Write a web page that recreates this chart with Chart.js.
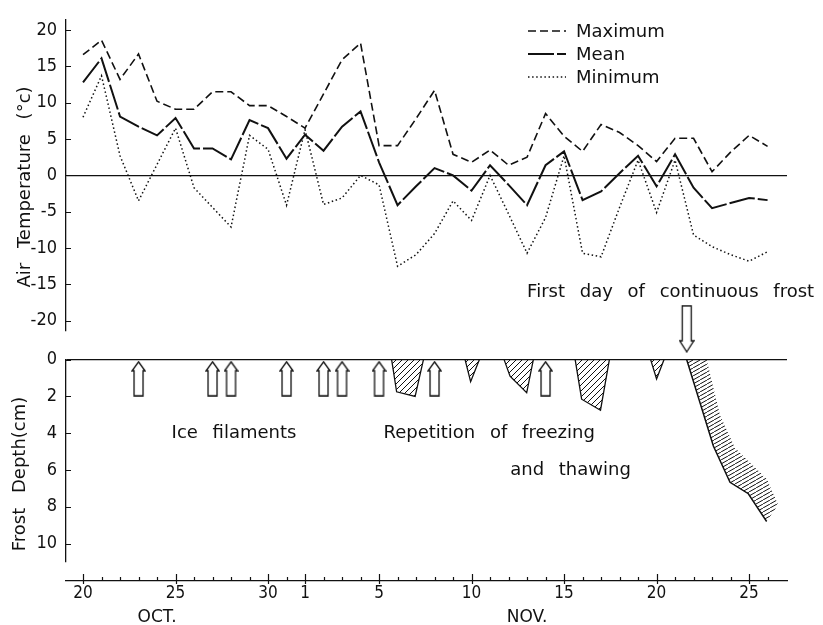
<!DOCTYPE html>
<html>
<head>
<meta charset="utf-8">
<script src="https://cdn.jsdelivr.net/npm/chart.js@4.4.1/dist/chart.umd.min.js"></script>
<style>
  html, body { margin: 0; padding: 0; background: #fff; }
</style>
</head>
<body>
<canvas id="chart" width="823" height="625"></canvas>
<script>
// day index: 0 = Oct 20 ... 11 = Oct 31, 12 = Nov 1 ... 37 = Nov 26
const days = [0, 1, 2, 3, 4, 5, 6, 7, 8, 9, 10, 11, 12, 13, 14, 15, 16, 17, 18, 19,
              20, 21, 22, 23, 24, 25, 26, 27, 28, 29, 30, 31, 32, 33, 34, 35, 36, 37];

// air temperature (deg C)
const maxTemp = [16.6, 18.6, 13.2, 16.7, 10.2, 9.1, 9.1, 11.5, 11.5, 9.6, 9.6, 8.1,
                 6.5, 11.2, 15.9, 18.2, 4.1, 4.1, 7.8, 11.7, 2.9, 1.8, 3.5, 1.4, 2.5, 8.5,
                 5.4, 3.3, 7.0, 5.9, 4.1, 1.9, 5.1, 5.1, 0.5, 3.2, 5.5, 4.0];
const meanTemp = [12.8, 16.1, 8.1, 6.7, 5.5, 7.9, 3.7, 3.7, 2.2, 7.6, 6.5, 2.3,
                  5.6, 3.4, 6.7, 8.8, 1.8, -4.1, -1.5, 1.0, 0.0, -2.1, 1.4, -1.3, -4.1, 1.4,
                  3.3, -3.4, -2.2, 0.3, 2.7, -1.5, 2.9, -1.7, -4.5, -3.8, -3.1, -3.4];
const minTemp = [8.0, 13.7, 2.7, -3.5, 1.5, 6.5, -1.7, -4.4, -7.1, 5.5, 3.6, -4.1,
                 6.3, -4.0, -3.1, 0.0, -1.3, -12.5, -10.9, -8.0, -3.5, -6.2, 0.0, -5.3, -10.7, -5.8,
                 2.7, -10.7, -11.2, -4.4, 2.1, -5.1, 2.1, -8.2, -9.8, -10.9, -11.8, -10.5];

// frost depth (cm): outlines of the frozen layer as [day, depth]
const frost1 = [[16.68, 0], [16.95, 1.75], [17.95, 2.0], [18.4, 0]];
const frost2 = [[20.65, 0], [20.95, 1.2], [21.42, 0]];
const frost3 = [[22.76, 0], [23.08, 0.9], [23.98, 1.8], [24.34, 0]];
const frost4 = [[26.6, 0], [26.95, 2.15], [27.97, 2.75], [28.45, 0]];
const frost5 = [[30.68, 0], [31.0, 1.05], [31.4, 0]];
const frostFront = [[32.63, 0], [34.07, 4.7], [34.97, 6.67], [35.96, 7.29], [36.95, 8.8]];
const frostBandEdge = [[37.57, 7.89], [36.97, 6.51], [36.43, 5.97], [35.24, 4.8], [34.43, 3.02], [33.71, 0]];

const iceFilamentDays = [3, 7, 8, 11, 13, 14, 16, 19, 25];
const continuousFrostDay = 32.63;

// tick labels
const tempTicks = [20, 15, 10, 5, 0, -5, -10, -15, -20];
const depthTicks = [0, 2, 4, 6, 8, 10];
const tickDays = [0, 5, 10, 12, 16, 21, 26, 31, 36];
const tickLabels = ['20', '25', '30', '1', '5', '10', '15', '20', '25'];
const monthDays = [4, 24];
const monthLabels = ['OCT.', 'NOV.'];

const ink = '#111';
const tickFont = "'DejaVu Sans Condensed', 'DejaVu Sans', sans-serif";
const textFont = "'DejaVu Sans', sans-serif";

const canvas = document.getElementById('chart');
const ctx0 = canvas.getContext('2d');

function hatch(w, h, lw) {
    const c = document.createElement('canvas');
    c.width = w;
    c.height = h;
    const g = c.getContext('2d');
    g.strokeStyle = ink;
    g.lineWidth = lw;
    g.beginPath();
    for (const ox of [-w, 0, w]) {
        g.moveTo(ox, h);
        g.lineTo(ox + w, 0);
    }
    g.stroke();
    return ctx0.createPattern(c, 'repeat');
}

function arrow(w, h, head, bodyHalf, down) {
    const c = document.createElement('canvas');
    c.width = w;
    c.height = h;
    const g = c.getContext('2d');
    const cx = w / 2, hw = w / 2 - 1;
    if (down) {
        g.translate(0, h);
        g.scale(1, -1);
    }
    g.beginPath();
    g.moveTo(cx, 1);
    g.lineTo(cx + hw, head);
    g.lineTo(cx + bodyHalf, head);
    g.lineTo(cx + bodyHalf, h - 1);
    g.lineTo(cx - bodyHalf, h - 1);
    g.lineTo(cx - bodyHalf, head);
    g.lineTo(cx - hw, head);
    g.closePath();
    g.fillStyle = '#fff';
    g.fill();
    g.lineWidth = 1.3;
    g.strokeStyle = ink;
    g.stroke();
    return c;
}

const triHatch = hatch(6, 6, 1);
const bandHatch = hatch(7, 4, 1);
const upArrow = arrow(15, 36, 10, 4.5, false);
const downArrow = arrow(16, 48, 12, 4.5, true);

const toXY = arr => arr.map(p => ({x: p[0], y: p[1]}));
const series = vals => days.map((d, i) => ({x: d, y: vals[i]}));

const tempLine = (label, vals, dash, width) => ({
    label, data: series(vals), yAxisID: 'yTemp',
    borderColor: ink, borderWidth: width, borderDash: dash,
    pointRadius: 0, fill: false, tension: 0
});

const frostShape = pts => ({
    data: toXY(pts), yAxisID: 'yDepth',
    borderColor: ink, borderWidth: 1.3, backgroundColor: triHatch,
    fill: 'shape', pointRadius: 0, tension: 0
});

const zeroGrid = c => (c.tick && c.tick.value === 0 ? ink : 'rgba(0,0,0,0)');

const gapAxis = weight => ({
    type: 'linear', position: 'left', stack: 'v', stackWeight: weight,
    display: true,
    grid: {display: false, drawTicks: false},
    border: {display: false},
    ticks: {display: false},
    afterFit: s => { s.width = 66; }
});

// extra drawing: inward ticks, legend, notes and axis titles
const decorations = {
    id: 'decorations',
    afterDraw(chart) {
        const {ctx, chartArea, scales} = chart;
        ctx.save();
        ctx.strokeStyle = ink;
        ctx.fillStyle = ink;
        ctx.lineWidth = 1.2;

        for (const id of ['yTemp', 'yDepth']) {
            const s = scales[id];
            ctx.beginPath();
            for (const t of s.ticks) {
                const y = Math.round(s.getPixelForValue(t.value)) + 0.5;
                ctx.moveTo(s.right, y);
                ctx.lineTo(s.right + 5, y);
            }
            ctx.stroke();
        }

        const sx = scales.x;
        ctx.beginPath();
        for (const t of sx.ticks) {
            const x = Math.round(sx.getPixelForValue(t.value)) + 0.5;
            const major = tickDays.includes(t.value);
            ctx.moveTo(x, chartArea.bottom + (major ? 3 : 0));
            ctx.lineTo(x, chartArea.bottom - (major ? 7 : 4));
        }
        ctx.stroke();

        // legend
        const legendY = [31, 54, 77];
        chart.data.datasets.slice(0, 3).forEach((ds, i) => {
            ctx.beginPath();
            ctx.setLineDash(ds.borderDash);
            ctx.lineWidth = ds.borderWidth;
            ctx.moveTo(528, legendY[i]);
            ctx.lineTo(566, legendY[i]);
            ctx.stroke();
            ctx.setLineDash([]);
            ctx.font = '18px ' + textFont;
            ctx.textAlign = 'left';
            ctx.textBaseline = 'middle';
            ctx.fillText(ds.label, 576, legendY[i] + 1);
        });

        // notes
        ctx.font = '18px ' + textFont;
        ctx.textAlign = 'center';
        ctx.textBaseline = 'middle';
        ctx.wordSpacing = '9px';
        const notes = [
            ['Ice filaments', 8.16, 4.0, 'yDepth'],
            ['Repetition of freezing', 21.95, 4.0, 'yDepth'],
            ['and thawing', 26.35, 6.0, 'yDepth'],
            ['First day of continuous frost', 31.76, -16.1, 'yTemp']
        ];
        for (const [text, d, v, axis] of notes) {
            ctx.fillText(text, sx.getPixelForValue(d), scales[axis].getPixelForValue(v));
        }

        // axis titles
        const titles = [['Air Temperature (°c)', 25, 187], ['Frost Depth(cm)', 20, 474]];
        for (const [text, x, y] of titles) {
            ctx.save();
            ctx.translate(x, y);
            ctx.rotate(-Math.PI / 2);
            ctx.fillText(text, 0, 0);
            ctx.restore();
        }
        ctx.restore();
    }
};

new Chart(canvas, {
    type: 'line',
    data: {
        datasets: [
            tempLine('Maximum', maxTemp, [8, 4], 1.6),
            tempLine('Mean', meanTemp, [26, 3], 2),
            tempLine('Minimum', minTemp, [1.5, 2.6], 1.5),
            frostShape(frost1),
            frostShape(frost2),
            frostShape(frost3),
            frostShape(frost4),
            frostShape(frost5),
            {
                data: toXY(frostFront.concat(frostBandEdge)), yAxisID: 'yDepth',
                borderWidth: 0, borderColor: 'rgba(0,0,0,0)', backgroundColor: bandHatch,
                fill: 'shape', pointRadius: 0, tension: 0
            },
            {
                data: toXY(frostFront), yAxisID: 'yDepth',
                borderColor: ink, borderWidth: 1.5, fill: false, pointRadius: 0, tension: 0
            },
            {
                data: iceFilamentDays.map(d => ({x: d, y: 1.04})), yAxisID: 'yDepth',
                showLine: false, pointStyle: upArrow, pointRadius: 8, clip: false
            },
            {
                data: [{x: continuousFrostDay, y: -1.68}], yAxisID: 'yDepth',
                showLine: false, pointStyle: downArrow, pointRadius: 8, clip: false
            }
        ]
    },
    options: {
        responsive: false,
        animation: false,
        events: [],
        layout: {autoPadding: false, padding: {top: 8, right: 36, left: 0, bottom: 0}},
        plugins: {legend: {display: false}, tooltip: {enabled: false}},
        scales: {
            x: {
                type: 'linear', position: 'bottom',
                min: -0.92, max: 38.05,
                afterBuildTicks: s => { s.ticks = days.map(v => ({value: v})); },
                afterFit: s => { s.height = 44; },
                grid: {display: false, drawTicks: false},
                border: {display: true, color: ink, width: 1.3},
                ticks: {
                    autoSkip: false, maxRotation: 0, padding: 1,
                    color: ink,
                    font: c => (c.tick && monthDays.includes(c.tick.value)
                        ? {family: textFont, size: 17, lineHeight: 1.4}
                        : {family: tickFont, size: 17, lineHeight: 1.4}),
                    callback: v => {
                        const i = tickDays.indexOf(v);
                        if (i >= 0) return tickLabels[i];
                        const m = monthDays.indexOf(v);
                        if (m >= 0) return ['', monthLabels[m]];
                        return '';
                    }
                }
            },
            yGapBottom: gapAxis(20),
            yDepth: {
                type: 'linear', position: 'left', stack: 'v', stackWeight: 206,
                reverse: true, min: 0, max: 10.97,
                afterBuildTicks: s => { s.ticks = depthTicks.map(v => ({value: v})); },
                afterFit: s => { s.width = 66; },
                grid: {color: zeroGrid, lineWidth: 1.3, drawTicks: false},
                border: {color: ink, width: 1.3},
                ticks: {autoSkip: false, color: ink, padding: 9, font: {family: tickFont, size: 18}}
            },
            yGapMid: gapAxis(30),
            yTemp: {
                type: 'linear', position: 'left', stack: 'v', stackWeight: 317,
                min: -21.3, max: 21.4,
                afterBuildTicks: s => { s.ticks = tempTicks.map(v => ({value: v})); },
                afterFit: s => { s.width = 66; },
                grid: {color: zeroGrid, lineWidth: 1.3, drawTicks: false},
                border: {color: ink, width: 1.3},
                ticks: {autoSkip: false, color: ink, padding: 9, font: {family: tickFont, size: 18}}
            }
        }
    },
    plugins: [decorations]
});
</script>
</body>
</html>
